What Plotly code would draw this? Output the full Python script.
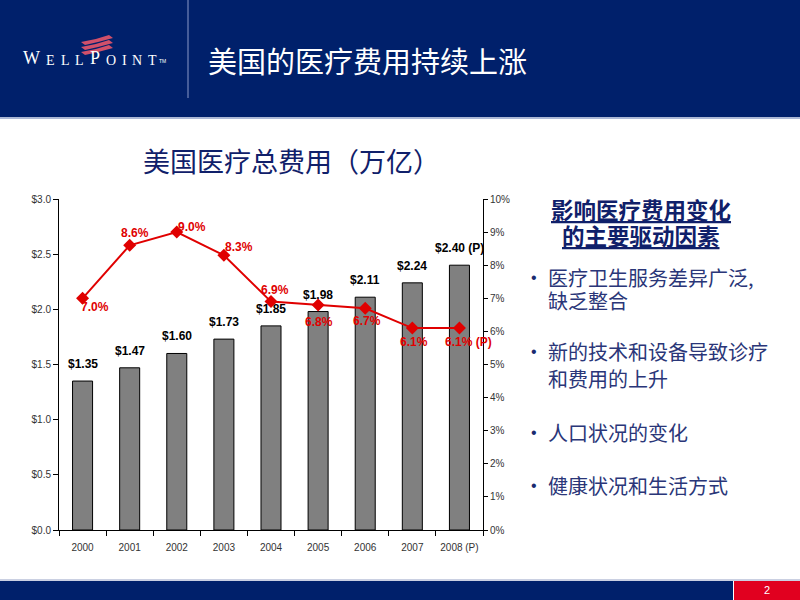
import plotly.graph_objects as go

years = ["2000", "2001", "2002", "2003", "2004", "2005", "2006", "2007", "2008 (P)"]
spend = [1.35, 1.47, 1.60, 1.73, 1.85, 1.98, 2.11, 2.24, 2.40]
spend_labels = ["$1.35", "$1.47", "$1.60", "$1.73", "$1.85", "$1.98", "$2.11", "$2.24", "$2.40 (P)"]
growth = [0.070, 0.086, 0.090, 0.083, 0.069, 0.068, 0.067, 0.061, 0.061]
growth_labels = ["7.0%", "8.6%", "9.0%", "8.3%", "6.9%", "6.8%", "6.7%", "6.1%", "6.1% (P)"]
# label offsets from each point, pixels (x right, y up)
growth_label_shift = [(12, -9), (5, 12), (15, 5), (15, 8), (4, 12), (1, -17), (2, -13), (2, -14), (9, -14)]

page_title = "美国的医疗费用持续上涨"
chart_title = "美国医疗总费用（万亿）"
side_heading = ["影响医疗费用变化", "的主要驱动因素"]
bullet_lines = [("•", "医疗卫生服务差异广泛,", 277), ("", "缺乏整合", 300),
                ("•", "新的技术和设备导致诊疗", 351), ("", "和费用的上升", 378),
                ("•", "人口状况的变化", 432),
                ("•", "健康状况和生活方式", 485)]
logo_letters = [("W", 22, 18), ("E", 45, 14), ("L", 59.5, 14), ("L", 74, 14), ("P", 88.5, 18),
                ("O", 104.5, 14), ("I", 120.5, 14), ("N", 131, 14), ("T", 147, 14)]

NAVY = "#00206b"
RED = "#e00000"
CJK = "Noto Sans CJK SC"

# plot area in pixels
L, R, T, B = 59, 483, 199, 530
W, H = 800, 600


def px(x):
    return (x - L) / (R - L)


def py(y):
    return (B - y) / (B - T)


idx = list(range(len(years)))

fig = go.Figure()
fig.add_trace(go.Bar(
    x=idx, y=spend,
    marker=dict(color="#808080", line=dict(color="black", width=1)),
    showlegend=False, hoverinfo="skip"))
fig.add_trace(go.Scatter(
    x=idx, y=growth, yaxis="y2", mode="lines+markers",
    line=dict(color=RED, width=2),
    marker=dict(symbol="diamond", size=10, color=RED),
    showlegend=False, hoverinfo="skip"))

shapes = []
# header
shapes.append(dict(type="rect", xref="paper", yref="paper", x0=px(0), x1=px(W), y0=py(0), y1=py(117),
                   fillcolor=NAVY, line=dict(width=0), layer="below"))
shapes.append(dict(type="line", xref="paper", yref="paper", x0=px(0), x1=px(W), y0=py(118), y1=py(118),
                   line=dict(color="#8fa0c8", width=1.5)))
shapes.append(dict(type="line", xref="paper", yref="paper", x0=px(188), x1=px(188), y0=py(0), y1=py(98),
                   line=dict(color="#8a98c8", width=1)))
# logo stripes
for i in range(3):
    oy = i * 5
    shapes.append(dict(type="path", xref="paper", yref="paper",
                       path="M {} {} Q {} {} {} {} L {} {} Q {} {} {} {} Z".format(
                           px(81), py(42 + oy), px(95), py(40 + oy), px(109), py(35 + oy),
                           px(113), py(38 + oy), px(99), py(42 + oy), px(85), py(45 + oy)),
                       fillcolor="#d0506a", line=dict(width=0)))
# footer
shapes.append(dict(type="line", xref="paper", yref="paper", x0=px(0), x1=px(W), y0=py(580), y1=py(580),
                   line=dict(color="#b8c0d8", width=1.5)))
shapes.append(dict(type="rect", xref="paper", yref="paper", x0=px(0), x1=px(733), y0=py(581), y1=py(600),
                   fillcolor=NAVY, line=dict(width=0)))
shapes.append(dict(type="rect", xref="paper", yref="paper", x0=px(734), x1=px(W), y0=py(581), y1=py(600),
                   fillcolor="#e1001f", line=dict(width=0)))

ann = []
ann.append(dict(xref="paper", yref="paper", x=px(206), y=py(60), xanchor="left", yanchor="middle",
                text=page_title, showarrow=False, font=dict(family=CJK, size=29, color="white")))
for ch, lx, fs in logo_letters:
    ann.append(dict(xref="paper", yref="paper", x=px(lx), y=py(69), xanchor="left", yanchor="bottom",
                    text=ch, showarrow=False, borderpad=0,
                    font=dict(family="Liberation Serif", size=fs, color="white")))
ann.append(dict(xref="paper", yref="paper", x=px(157), y=py(66), xanchor="left", yanchor="bottom",
                text="TM", showarrow=False, font=dict(family="Arial", size=5, color="white")))
ann.append(dict(xref="paper", yref="paper", x=px(291), y=py(160), xanchor="center", yanchor="middle",
                text=chart_title, showarrow=False, font=dict(family=CJK, size=27, color="#10206a")))
for i, line in enumerate(side_heading):
    ann.append(dict(xref="paper", yref="paper", x=px(641), y=py(209 + 26 * i), xanchor="center",
                    yanchor="middle", text="<u>" + line + "</u>", showarrow=False,
                    font=dict(family=CJK, size=22.5, color="#10206a", weight="bold")))
for bullet, txt, yy in bullet_lines:
    if bullet:
        ann.append(dict(xref="paper", yref="paper", x=px(534), y=py(yy), xanchor="center",
                        yanchor="middle", text=bullet, showarrow=False,
                        font=dict(family="Arial", size=16, color="#1a2a70")))
    ann.append(dict(xref="paper", yref="paper", x=px(546), y=py(yy), xanchor="left",
                    yanchor="middle", text=txt, showarrow=False,
                    font=dict(family=CJK, size=20, color="#2a3678")))
ann.append(dict(xref="paper", yref="paper", x=px(767), y=py(590), xanchor="center", yanchor="middle",
                text="2", showarrow=False, font=dict(family="Arial", size=11, color="white")))

# data labels
for xv, yv, lab in zip(idx, spend, spend_labels):
    ann.append(dict(x=xv, y=yv, xref="x", yref="y", text=lab, showarrow=False,
                    xanchor="center", yanchor="bottom", yshift=8,
                    font=dict(family="Arial", size=12, color="black", weight="bold")))
for xv, yv, lab, (dx, dy) in zip(idx, growth, growth_labels, growth_label_shift):
    ann.append(dict(x=xv, y=yv, xref="x", yref="y2", text=lab, showarrow=False,
                    xanchor="center", yanchor="middle", xshift=dx, yshift=dy,
                    font=dict(family="Arial", size=12, color=RED, weight="bold")))

axis_font = dict(family="Arial", size=10, color="#333333")
fig.update_layout(
    width=W, height=H, margin=dict(l=L, r=W - R, t=T, b=H - B),
    paper_bgcolor="white", plot_bgcolor="white",
    bargap=0.575, shapes=shapes, annotations=ann,
    xaxis=dict(tickmode="array", tickvals=idx, ticktext=years, range=[-0.5, len(years) - 0.5],
               ticks="", tickangle=0, showline=True, linecolor="black", linewidth=1, showgrid=False,
               zeroline=False, tickfont=axis_font, ticklabelstandoff=8),
    xaxis2=dict(overlaying="x", range=[-0.5, len(years) - 0.5], tickmode="array",
                tickvals=[i - 0.5 for i in range(len(years) + 1)], showticklabels=False,
                ticks="outside", ticklen=5, tickcolor="black", showgrid=False, zeroline=False,
                anchor="y", side="bottom"),
    yaxis=dict(range=[0, 3], dtick=0.5, tickprefix="$", tickformat=".1f", ticks="outside",
               ticklen=5, showline=True, linecolor="black", linewidth=1, showgrid=False,
               zeroline=False, tickfont=axis_font, tickcolor="black"),
    yaxis2=dict(range=[0, 0.10], dtick=0.01, tickformat=".0%", overlaying="y", side="right",
                ticks="outside", ticklen=4, showline=True, linecolor="black", linewidth=1,
                showgrid=False, zeroline=False, tickfont=axis_font, tickcolor="black"),
)
# invisible trace to activate the tick-only axis at category boundaries
fig.add_trace(go.Scatter(x=[0], y=[0], xaxis="x2", mode="markers", marker=dict(opacity=0),
                         showlegend=False, hoverinfo="skip"))

fig.write_html("out.html", config={"displayModeBar": False},
               post_script="document.body.style.margin='0';document.body.style.overflow='hidden';")
